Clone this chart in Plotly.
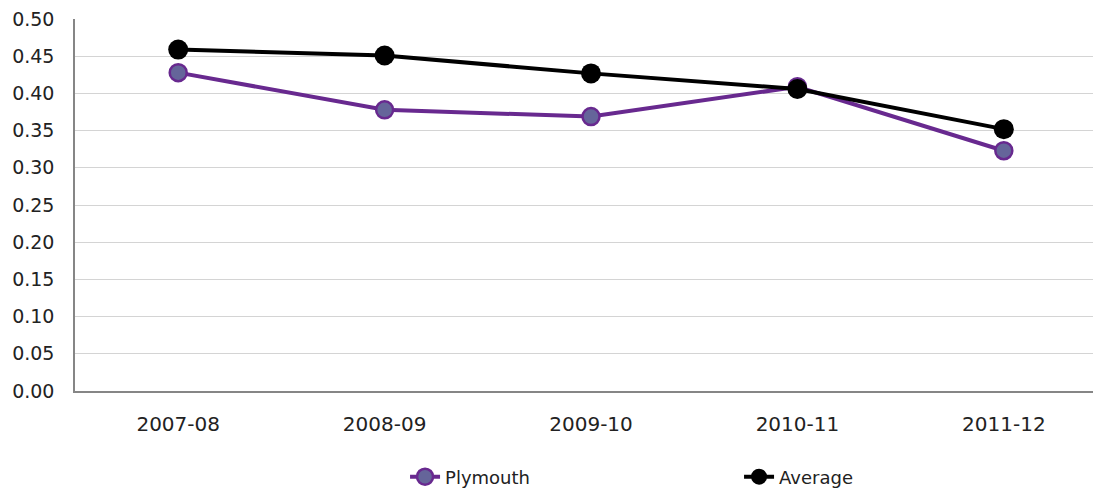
import plotly.graph_objects as go

categories = ["2007-08", "2008-09", "2009-10", "2010-11", "2011-12"]
plymouth = [0.428, 0.378, 0.369, 0.409, 0.323]
average = [0.459, 0.451, 0.427, 0.406, 0.352]
y_ticks = [0.0, 0.05, 0.10, 0.15, 0.20, 0.25, 0.30, 0.35, 0.40, 0.45, 0.50]

fig = go.Figure()
fig.add_trace(go.Scatter(
    x=categories, y=plymouth, name="Plymouth", mode="lines+markers",
    line=dict(color="#68298F", width=4),
    marker=dict(size=17, color="#65659A", line=dict(color="#68298F", width=2.5)),
))
fig.add_trace(go.Scatter(
    x=categories, y=average, name="Average", mode="lines+markers",
    line=dict(color="#000000", width=4),
    marker=dict(size=20, color="#000000"),
))

# page body has an 8px default margin, so the figure is sized to fit the window
fig.update_layout(
    width=1093, height=480,
    margin=dict(l=67, r=1, t=11, b=97),
    paper_bgcolor="white", plot_bgcolor="white",
    font=dict(family="DejaVu Sans, Verdana, sans-serif", size=18, color="#222222"),
    showlegend=True,
    legend=dict(orientation="h", x=0.322, xanchor="left",
                yref="container", y=0.023, yanchor="middle",
                entrywidth=289, entrywidthmode="pixels",
                font=dict(size=18)),
    xaxis=dict(
        type="category", range=[-0.5, 4.466],
        showgrid=False, showline=True, linecolor="#868686", linewidth=1.5,
        ticks="", tickfont=dict(size=20), ticklabelstandoff=14, fixedrange=True,
    ),
    yaxis=dict(
        range=[0, 0.5001], tickvals=y_ticks, tickformat=".2f",
        showgrid=True, gridcolor="#D4D4D4", gridwidth=1,
        showline=True, linecolor="#868686", linewidth=1.5,
        ticks="", ticklabelstandoff=15, tickfont=dict(size=19), zeroline=False,
        ticklabeloverflow="allow",
    ),
)

fig.write_html("out.html")
